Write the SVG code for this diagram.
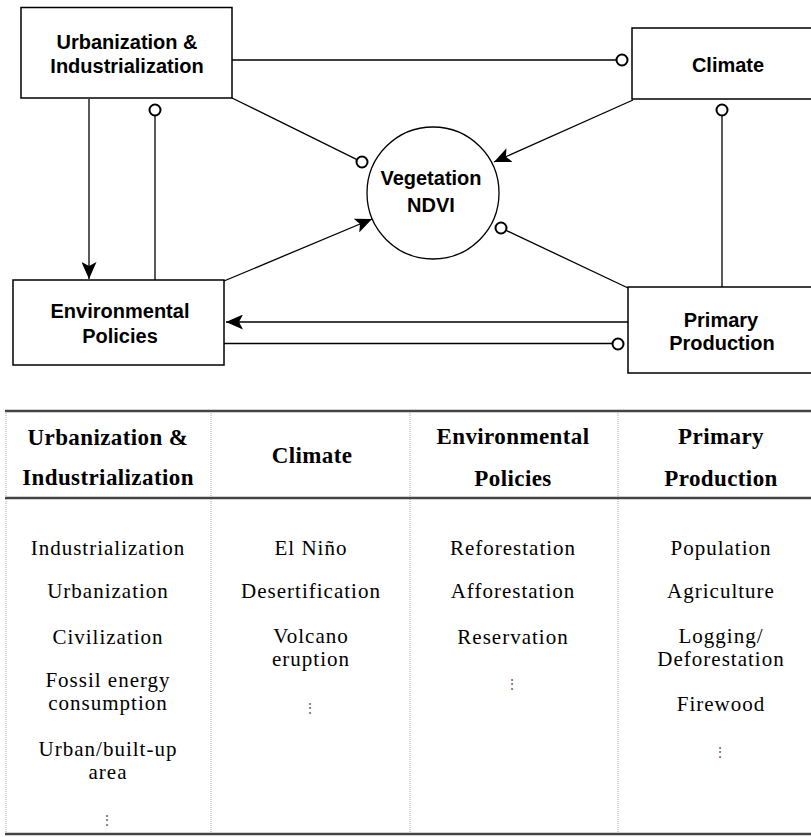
<svg xmlns="http://www.w3.org/2000/svg" width="811" height="837" viewBox="0 0 811 837">
<style>
.box{fill:#fff;stroke:#000;stroke-width:1.5}
.lbl{font-family:"Liberation Sans",Arial,sans-serif;font-weight:bold;font-size:20px;fill:#000;text-anchor:middle}
.ln{fill:none;stroke:#000;stroke-width:1.3}
.end{fill:#fff;stroke:#000;stroke-width:2}
.th{font-family:"Liberation Serif","Times New Roman",serif;font-weight:bold;font-size:23px;letter-spacing:0.4px;fill:#000;text-anchor:middle}
.td{font-family:"Liberation Serif","Times New Roman",serif;font-size:21px;letter-spacing:1px;fill:#000;text-anchor:middle}
.dots{font-family:"DejaVu Serif",serif;font-size:14px;fill:#666;text-anchor:middle}
.rule{stroke:#444;stroke-width:2.5}
.vsep{stroke:#aaa;stroke-width:1;stroke-dasharray:1 1}
</style>
<defs>
<marker id="arr" markerUnits="userSpaceOnUse" viewBox="0 0 17 15" refX="17" refY="7.5" markerWidth="17" markerHeight="15" orient="auto">
<path d="M0,0 L17,7.5 L0,15 L4,7.5 z" fill="#000"/>
</marker>
</defs>

<g id="connectors">
<line class="ln" x1="232" y1="60" x2="616" y2="60"/>
<circle class="end" cx="622" cy="60" r="5.5"/>
<line class="ln" x1="155" y1="116" x2="155" y2="280"/>
<circle class="end" cx="155" cy="110" r="5.5"/>
<line class="ln" x1="89" y1="99" x2="89" y2="279" marker-end="url(#arr)"/>
<line class="ln" x1="232" y1="98" x2="357" y2="159.6"/>
<circle class="end" cx="362" cy="162" r="5.5"/>
<line class="ln" x1="633" y1="100" x2="494" y2="162" marker-end="url(#arr)"/>
<line class="ln" x1="722" y1="116" x2="722" y2="287"/>
<circle class="end" cx="722" cy="110" r="5.5"/>
<line class="ln" x1="628" y1="288" x2="506" y2="230.3"/>
<circle class="end" cx="501" cy="228" r="5.5"/>
<line class="ln" x1="224" y1="281" x2="372" y2="219" marker-end="url(#arr)"/>
<line class="ln" x1="630" y1="322" x2="226" y2="322" marker-end="url(#arr)"/>
<line class="ln" x1="224" y1="343.5" x2="612" y2="343.5"/>
<circle class="end" cx="618" cy="344" r="5.5"/>
</g>

<g id="node-urban">
<rect class="box" x="21" y="7.5" width="211" height="90.5"/>
<text class="lbl" x="127" y="49">Urbanization &amp;</text>
<text class="lbl" x="127" y="73">Industrialization</text>
</g>
<g id="node-climate">
<rect class="box" x="632" y="28" width="200" height="71"/>
<text class="lbl" x="728" y="72">Climate</text>
</g>
<g id="node-vegetation">
<circle cx="433" cy="193" r="66" fill="#fff" stroke="#000" stroke-width="1.3"/>
<text class="lbl" x="431" y="185">Vegetation</text>
<text class="lbl" x="431" y="212">NDVI</text>
</g>
<g id="node-env">
<rect class="box" x="13" y="280" width="211" height="85"/>
<text class="lbl" x="120" y="318">Environmental</text>
<text class="lbl" x="120" y="343">Policies</text>
</g>
<g id="node-primary">
<rect class="box" x="628" y="287" width="200" height="86"/>
<text class="lbl" x="721" y="327">Primary</text>
<text class="lbl" x="722" y="350">Production</text>
</g>

<g id="table">
<line class="vsep" x1="6" y1="411" x2="6" y2="833"/>
<line class="vsep" x1="211" y1="411" x2="211" y2="833"/>
<line class="vsep" x1="410" y1="411" x2="410" y2="833"/>
<line class="vsep" x1="618" y1="411" x2="618" y2="833"/>
<line class="rule" x1="5" y1="411" x2="811" y2="411"/>
<line class="rule" x1="5" y1="498" x2="811" y2="498"/>
<line class="rule" x1="5" y1="834" x2="811" y2="834"/>

<text class="th" x="108" y="445">Urbanization &amp;</text>
<text class="th" x="108" y="485">Industrialization</text>
<text class="th" x="312" y="463">Climate</text>
<text class="th" x="513" y="444">Environmental</text>
<text class="th" x="513" y="486">Policies</text>
<text class="th" x="721" y="444">Primary</text>
<text class="th" x="721" y="486">Production</text>

<text class="td" x="108" y="555">Industrialization</text>
<text class="td" x="108" y="598">Urbanization</text>
<text class="td" x="108" y="644">Civilization</text>
<text class="td" x="108" y="687">Fossil energy</text>
<text class="td" x="108" y="710">consumption</text>
<text class="td" x="108" y="756">Urban/built-up</text>
<text class="td" x="108" y="779">area</text>
<text class="dots" x="107" y="825">⋮</text>

<text class="td" x="311" y="555">El Niño</text>
<text class="td" x="311" y="598">Desertification</text>
<text class="td" x="311" y="643">Volcano</text>
<text class="td" x="311" y="666">eruption</text>
<text class="dots" x="310" y="713">⋮</text>

<text class="td" x="513" y="555">Reforestation</text>
<text class="td" x="513" y="598">Afforestation</text>
<text class="td" x="513" y="644">Reservation</text>
<text class="dots" x="512" y="689">⋮</text>

<text class="td" x="721" y="555">Population</text>
<text class="td" x="721" y="598">Agriculture</text>
<text class="td" x="721" y="643">Logging/</text>
<text class="td" x="721" y="666">Deforestation</text>
<text class="td" x="721" y="711">Firewood</text>
<text class="dots" x="720" y="757">⋮</text>
</g>
</svg>
